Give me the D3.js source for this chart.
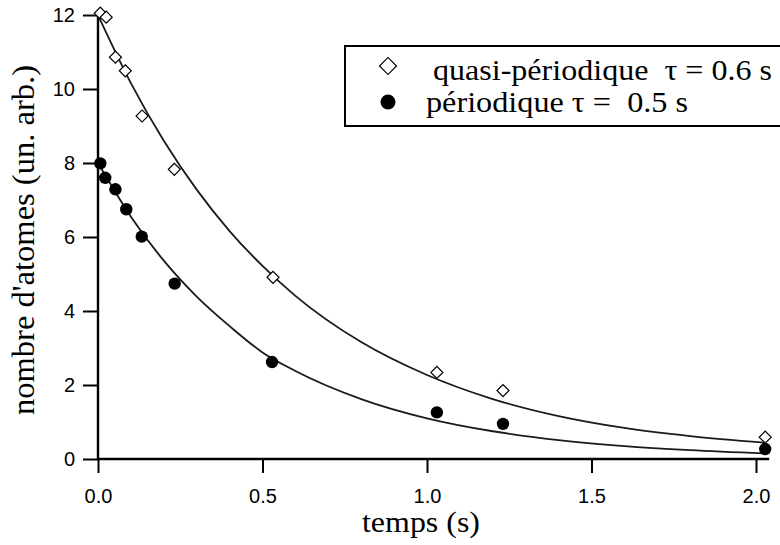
<!DOCTYPE html>
<html><head><meta charset="utf-8">
<script src="https://cdn.jsdelivr.net/npm/d3@7"></script>
<style>body{margin:0;background:#fff}svg{display:block}</style></head>
<body><svg id="c" width="780" height="545"></svg>
<script>
// measured points (temps en s, nombre d'atomes)
const quasiT = [0.007, 0.025, 0.053, 0.083, 0.134, 0.232, 0.532, 1.03, 1.231, 2.028];
const quasiN = [12.05, 11.94, 10.86, 10.49, 9.27, 7.83, 4.91, 2.34, 1.85, 0.59];
const perT = [0.007, 0.022, 0.053, 0.086, 0.133, 0.233, 0.529, 1.03, 1.231, 2.028];
const perN = [7.99, 7.6, 7.29, 6.75, 6.01, 4.74, 2.62, 1.26, 0.95, 0.27];
// fitted curves
const fitT = [0, 0.1, 0.2, 0.3, 0.4, 0.5, 0.6, 0.8, 1.0, 1.2, 1.4, 1.6, 1.8, 2.03];
const fitQuasi = [12, 10.16, 8.6, 7.28, 6.16, 5.22, 4.41, 3.16, 2.27, 1.62, 1.16, 0.84, 0.62, 0.44];
const fitPer = [8, 6.55, 5.36, 4.39, 3.59, 2.88, 2.38, 1.62, 1.1, 0.75, 0.51, 0.35, 0.24, 0.15];
const xTicks = [0, 0.5, 1.0, 1.5, 2.0];
const yTicks = [0, 2, 4, 6, 8, 10, 12];
const legendLabels = ["quasi-périodique  τ = 0.6 s", "périodique τ =  0.5 s"];
const xTitle = "temps (s)";
const yTitle = "nombre d'atomes (un. arb.)";

const svg = d3.select("#c");
const x = d3.scaleLinear().domain([0, 2]).range([98, 756]);
const y = d3.scaleLinear().domain([0, 12]).range([459, 15]);
const serif = "'Liberation Serif','Times New Roman',serif";
const sans = "'Liberation Sans',Arial,Helvetica,sans-serif";

// axes
const gx = svg.append("g").attr("transform", `translate(0,${y(0)})`)
  .call(d3.axisBottom(x).tickValues(xTicks).tickSize(14).tickSizeOuter(0).tickPadding(16).tickFormat(d3.format(".1f")));
gx.select(".domain").remove();
gx.selectAll(".tick line").attr("stroke", "#000").attr("stroke-width", 2);
gx.selectAll(".tick text").attr("font-family", sans).attr("font-size", 20).attr("fill", "#000");

const gy = svg.append("g").attr("transform", `translate(${x(0)},0)`)
  .call(d3.axisLeft(y).tickValues(yTicks).tickSize(15).tickSizeOuter(0).tickPadding(8).tickFormat(d3.format("d")));
gy.select(".domain").remove();
gy.selectAll(".tick line").attr("stroke", "#000").attr("stroke-width", 2);
gy.selectAll(".tick text").attr("font-family", sans).attr("font-size", 20).attr("fill", "#000");

// axis lines
svg.append("line").attr("x1", x(0)).attr("x2", x(2.04)).attr("y1", y(0)).attr("y2", y(0))
  .attr("stroke", "#000").attr("stroke-width", 2.4);
svg.append("line").attr("x1", x(0)).attr("x2", x(0)).attr("y1", y(12)).attr("y2", y(0))
  .attr("stroke", "#000").attr("stroke-width", 2.4);

// fit curves
const line = d3.line().x((d, i) => x(fitT[i])).y(d => y(d)).curve(d3.curveMonotoneX);
[fitQuasi, fitPer].forEach(arr => {
  svg.append("path").attr("d", line(arr)).attr("fill", "none")
    .attr("stroke", "#1a1a1a").attr("stroke-width", 1.8);
});

// markers
const diamond = d3.symbol().type(d3.symbolSquare).size(72);
svg.append("g").selectAll("path").data(quasiN).join("path")
  .attr("d", diamond)
  .attr("transform", (d, i) => `translate(${x(quasiT[i])},${y(d)}) rotate(45)`)
  .attr("fill", "#fff").attr("stroke", "#000").attr("stroke-width", 1.2);
svg.append("g").selectAll("circle").data(perN).join("circle")
  .attr("cx", (d, i) => x(perT[i])).attr("cy", d => y(d)).attr("r", 6.2).attr("fill", "#000");

// legend
svg.append("rect").attr("x", 345).attr("y", 46).attr("width", 440).attr("height", 80)
  .attr("fill", "#fff").attr("stroke", "#000").attr("stroke-width", 2);
svg.append("path").attr("d", d3.symbol().type(d3.symbolSquare).size(144))
  .attr("transform", "translate(388,66) rotate(45)")
  .attr("fill", "#fff").attr("stroke", "#000").attr("stroke-width", 1.2);
svg.append("circle").attr("cx", 388).attr("cy", 102).attr("r", 7.5).attr("fill", "#000");
const legX = [433, 426], legY = [80, 112], legW = [339, 262];
legendLabels.forEach((t, i) => {
  svg.append("text").attr("x", legX[i]).attr("y", legY[i]).text(t)
    .attr("font-family", serif).attr("font-size", 29).style("white-space", "pre")
    .attr("textLength", legW[i]).attr("lengthAdjust", "spacingAndGlyphs");
});

// titles
svg.append("text").attr("x", 421).attr("y", 532).attr("text-anchor", "middle")
  .attr("font-family", serif).attr("font-size", 30).text(xTitle)
  .attr("textLength", 118).attr("lengthAdjust", "spacingAndGlyphs");
svg.append("text").attr("transform", "translate(34,240) rotate(-90)").attr("text-anchor", "middle")
  .attr("font-family", serif).attr("font-size", 31).text(yTitle)
  .attr("textLength", 350).attr("lengthAdjust", "spacingAndGlyphs");
</script></body></html>
